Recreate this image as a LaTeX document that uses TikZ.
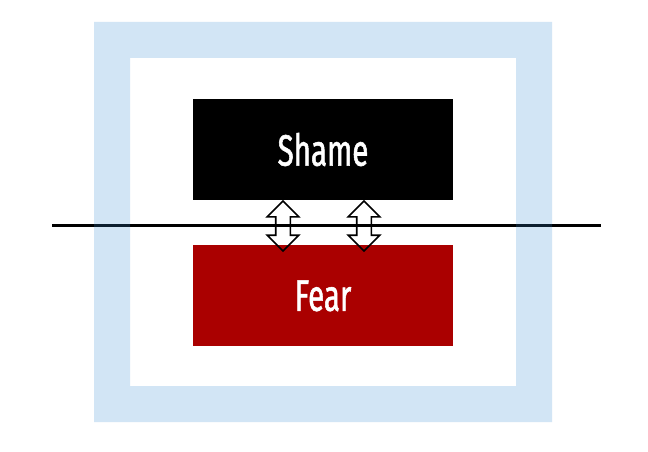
\documentclass[tikz,border=0pt]{standalone}
\usepackage{fontspec}
\setsansfont[FakeStretch=0.67,FakeBold=1.2]{Fira Sans}
\usetikzlibrary{positioning,shapes.arrows}
\definecolor{paleblue}{RGB}{58,143,214}
\definecolor{fearred}{RGB}{170,0,0}

\begin{document}
\begin{tikzpicture}[x=1pt,y=-1pt,
  box/.style={minimum width=260pt,minimum height=101pt,inner sep=0pt,
    font=\sffamily\fontsize{44}{44}\selectfont,text=white},
  link/.style={double arrow,draw,line width=1.6pt,rotate=90,minimum height=50pt,
    inner sep=6.5pt,double arrow head extend=8.5pt}]
\useasboundingbox (0,0) rectangle (648,452);
\fill[white] (0,0) rectangle (648,452);
\coordinate (west) at (52,225);
\coordinate (east) at (601,225);
\draw[line width=3pt] (west) -- (east);
% frame
\fill[paleblue,fill opacity=0.224,even odd rule]
  (94,22) rectangle (552,422) (130,58) rectangle (516,386);
\node[box,fill=black] (shame) at (323,149.5) {Shame};
\node[box,fill=fearred] (fear) [below=45pt of shame] {Fear};
\node[link] (left) at (283,226) {};
\node[link] (right) at (364,226) {};
\end{tikzpicture}
\end{document}
